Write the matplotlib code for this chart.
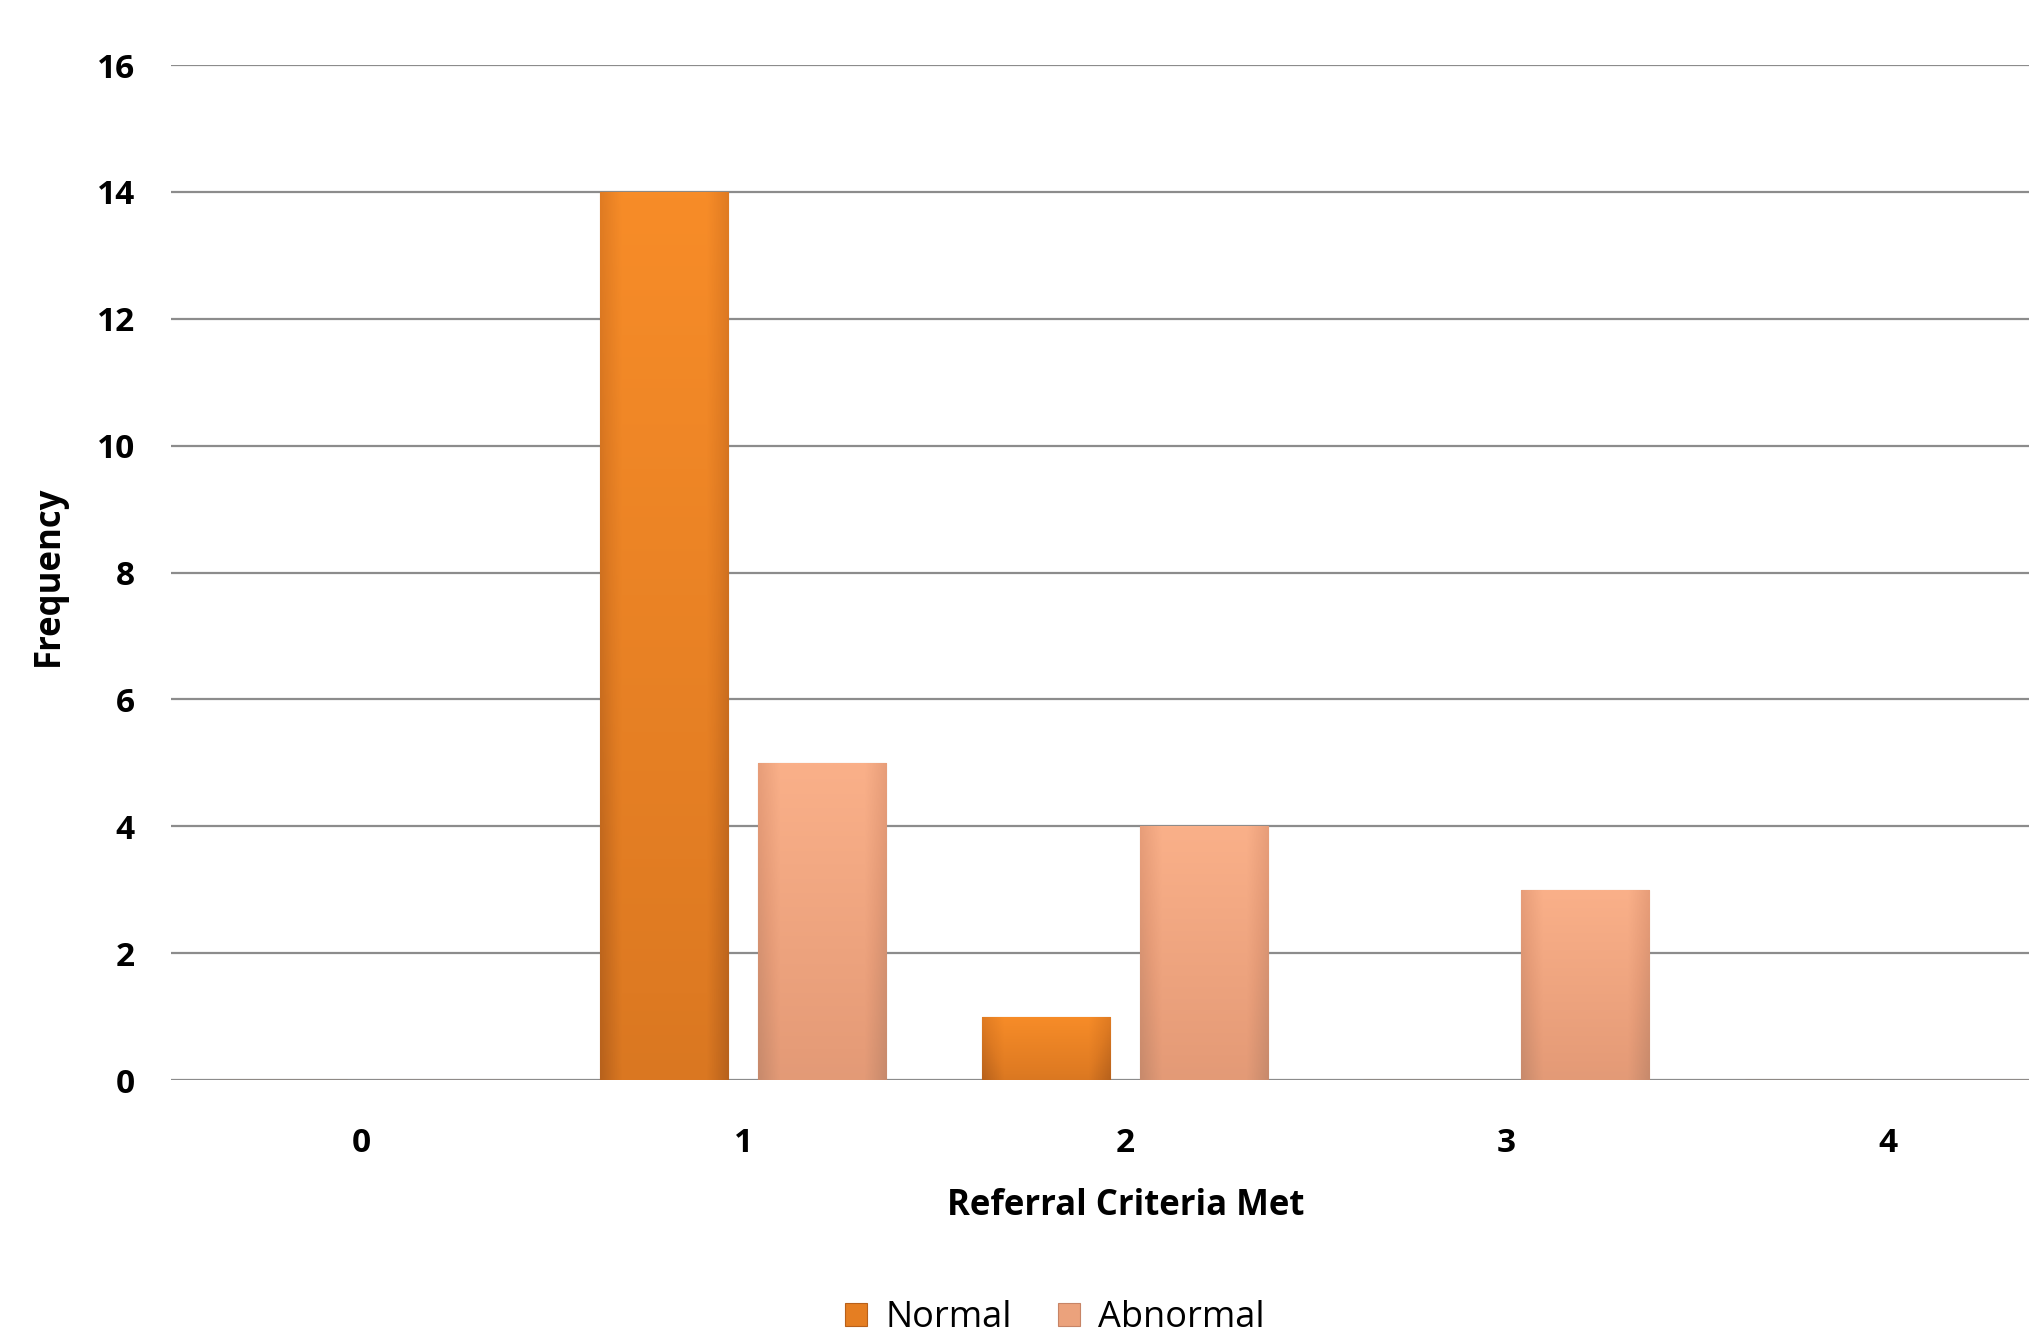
import matplotlib
matplotlib.use('Agg')
import matplotlib.pyplot as plt
import numpy as np
from matplotlib.colors import LinearSegmentedColormap

# data
categories = [0, 1, 2, 3, 4]
normal = [0, 14, 1, 0, 0]
abnormal = [0, 5, 4, 3, 0]
yticks = [0, 2, 4, 6, 8, 10, 12, 14, 16]

plt.rcParams['font.family'] = ['Open Sans', 'DejaVu Sans']


# shade one bar with a left-right / top-bottom gradient clipped to the bar
def shade(ax, patch, cmap):
    x0, y0 = patch.get_x(), patch.get_y()
    w, h = patch.get_width(), patch.get_height()
    if h <= 0:
        return
    xs = np.linspace(0, 1, 60)
    ys = np.linspace(0, 1, 60)
    X, Y = np.meshgrid(xs, ys)
    edge = np.minimum(X, 1 - X)
    grad = 0.55 * Y + 0.45 * np.clip(edge * 6, 0, 1)
    img = ax.imshow(grad, cmap=cmap, extent=[x0, x0 + w, y0, y0 + h],
                    origin='lower', aspect='auto', zorder=3, vmin=0, vmax=1)
    img.set_clip_path(patch)


def main():
    fig = plt.figure(figsize=(20.29, 13.41), dpi=100)
    ax = fig.add_axes([0.0843, 0.1946, 0.9157, 0.7569])

    x = np.array(categories)
    width = 0.336
    off = 0.207
    b1 = ax.bar(x - off, normal, width, color='#E57E22', zorder=2,
                edgecolor='#B8601A', linewidth=0.8, label='Normal')
    b2 = ax.bar(x + off, abnormal, width, color='#EBA27C', zorder=2,
                edgecolor='#C78466', linewidth=0.8, label='Abnormal')

    cm_n = LinearSegmentedColormap.from_list('n', ['#B8621C', '#DE7A22', '#F78C28'])
    cm_a = LinearSegmentedColormap.from_list('a', ['#C88A6C', '#E69C78', '#FAB089'])
    for p in b1:
        shade(ax, p, cm_n)
    for p in b2:
        shade(ax, p, cm_a)

    ax.set_xlim(-0.5, 4.37)
    ax.set_ylim(0, 16)
    ax.set_yticks(yticks)
    ax.set_xticks(categories)
    ax.grid(axis='y', color='#8C8C8C', linewidth=1.6, zorder=1)
    ax.set_axisbelow(True)
    for s in ax.spines.values():
        s.set_visible(False)
    ax.tick_params(axis='both', length=0, labelsize=24)
    ax.tick_params(axis='x', pad=34)
    ax.tick_params(axis='y', pad=26)
    for lab in ax.get_xticklabels() + ax.get_yticklabels():
        lab.set_fontweight('bold')

    ax.set_xlabel('Referral Criteria Met', fontsize=25, fontweight='bold')
    ax.xaxis.set_label_coords(0.514, -0.124)
    ax.xaxis.label.set_va('center')
    ax.set_ylabel('Frequency', fontsize=25, fontweight='bold')
    ax.yaxis.set_label_coords(-0.066, 0.497)
    ax.yaxis.label.set_va('center')

    fig.legend(handles=[b1, b2], labels=['Normal', 'Abnormal'], loc='center',
               bbox_to_anchor=(0.52, 0.017), ncol=2, frameon=False, fontsize=26,
               handlelength=0.6, handleheight=0.6, handletextpad=0.5,
               columnspacing=1.3)

    fig.savefig('out.png', dpi=100)


if __name__ == '__main__':
    main()
